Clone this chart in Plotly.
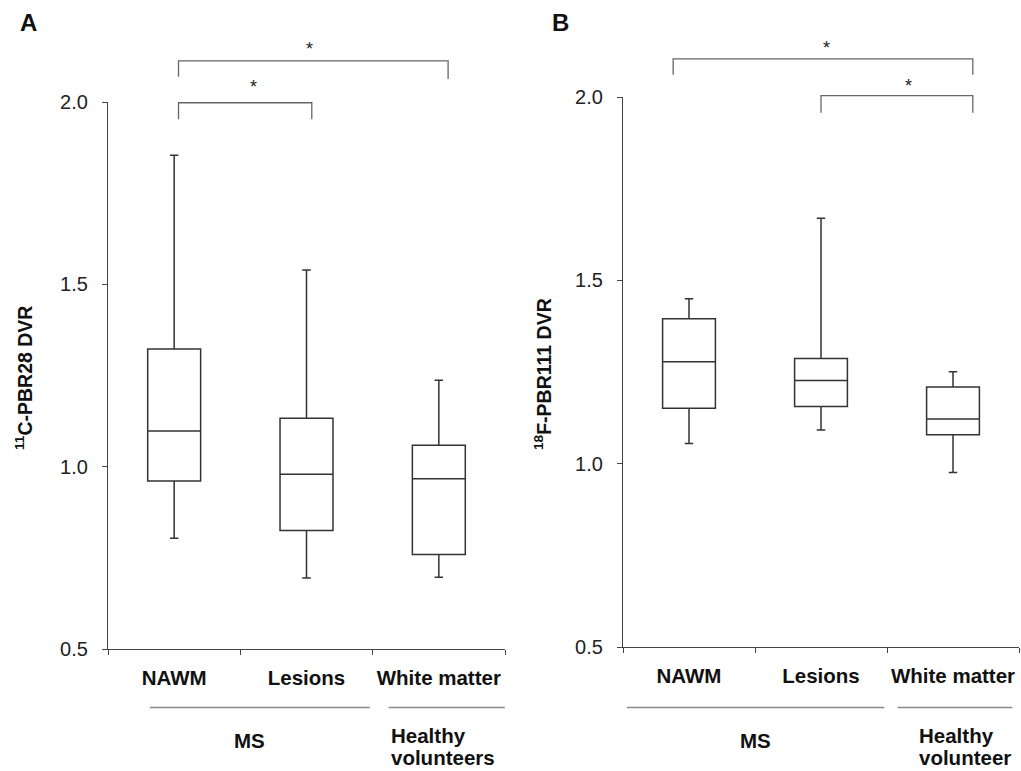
import plotly.graph_objects as go

# ---------------- data ----------------
categories = ["NAWM", "Lesions", "White matter"]

a_lower = [0.804, 0.695, 0.697]
a_q1 = [0.961, 0.825, 0.759]
a_median = [1.098, 0.979, 0.967]
a_q3 = [1.323, 1.133, 1.059]
a_upper = [1.854, 1.539, 1.237]

b_lower = [1.055, 1.092, 0.976]
b_q1 = [1.151, 1.156, 1.079]
b_median = [1.278, 1.227, 1.122]
b_q3 = [1.395, 1.287, 1.209]
b_upper = [1.450, 1.669, 1.251]

y_ticks = [0.5, 1.0, 1.5, 2.0]

# significance comparisons (category index pairs)
a_pairs = [(0, 2), (0, 1)]
b_pairs = [(0, 2), (1, 2)]

# ---------------- layout helpers ----------------
W, H = 1021, 771
FONT = "Liberation Sans, Arial, sans-serif"
BOX_COLOR = "#333333"
AX_COLOR = "#444444"
BR_COLOR = "#666666"
GRP_COLOR = "#8a8a8a"
YMIN, YMAX = 0.5, 2.0
LBL = 20.5


def px(x):
    return x / W


def py(y):
    return 1 - y / H


dom_a_x = [px(108), px(505)]
dom_a_y = [py(649), py(102)]
dom_b_x = [px(623), px(1019)]
dom_b_y = [py(647), py(97)]


def ypaper(v, dom):
    return dom[0] + (v - YMIN) / (YMAX - YMIN) * (dom[1] - dom[0])


fig = go.Figure()


def add_box(lower, q1, med, q3, upper, xa, ya):
    fig.add_trace(go.Box(
        x=categories,
        lowerfence=lower, q1=q1, median=med, q3=q3, upperfence=upper,
        xaxis=xa, yaxis=ya,
        width=0.40, whiskerwidth=0.16,
        fillcolor="white",
        line=dict(color=BOX_COLOR, width=1.5),
        boxpoints=False, hoverinfo="skip", showlegend=False,
    ))


add_box(a_lower, a_q1, a_median, a_q3, a_upper, "x", "y")
add_box(b_lower, b_q1, b_median, b_q3, b_upper, "x2", "y2")

xaxis_common = dict(
    type="category", range=[-0.5, 2.5], showgrid=False, zeroline=False,
    showline=True, linecolor=AX_COLOR, linewidth=1.2,
    ticks="outside", ticklen=5, tickcolor=AX_COLOR, tickwidth=1.2,
    tickson="boundaries", ticklabelstandoff=10, automargin=False, tickangle=0,
    tickfont=dict(family=FONT, size=LBL, color="#111111", weight="bold"),
    fixedrange=True,
)
yaxis_common = dict(
    range=[YMIN, YMAX], showgrid=False, zeroline=False,
    showline=True, linecolor=AX_COLOR, linewidth=1.2,
    ticks="outside", ticklen=5, tickcolor=AX_COLOR, tickwidth=1.2,
    tickvals=y_ticks, tickformat=".1f", ticklabelstandoff=10, automargin=False,
    tickfont=dict(family=FONT, size=20, color="#222222"),
    fixedrange=True,
)

fig.update_layout(
    width=W, height=H, autosize=False,
    margin=dict(l=0, r=0, t=0, b=0, pad=0, autoexpand=False),
    paper_bgcolor="white", plot_bgcolor="white",
    xaxis=dict(domain=dom_a_x, anchor="y", **xaxis_common),
    yaxis=dict(domain=dom_a_y, anchor="x", **yaxis_common),
    xaxis2=dict(domain=dom_b_x, anchor="y2", **xaxis_common),
    yaxis2=dict(domain=dom_b_y, anchor="x2", **yaxis_common),
    font=dict(family=FONT),
)

shapes = []
annots = []


def bracket(xref, dom, x0, x1, ytop, yleft, yright, star_x, star_y):
    yt = ypaper(ytop, dom)
    shapes.append(dict(type="path", xref=xref, yref="paper",
                       path=f"M {x0} {ypaper(yleft, dom)} L {x0} {yt} L {x1} {yt} L {x1} {ypaper(yright, dom)}",
                       line=dict(color=BR_COLOR, width=1.3)))
    annots.append(dict(xref=xref, yref="paper", x=star_x, y=ypaper(star_y, dom),
                       text="*", showarrow=False, xanchor="center", yanchor="middle",
                       font=dict(family=FONT, size=18, color="#222222")))


# Panel A brackets
(p0, p1), (q0, q1_) = a_pairs
bracket("x", dom_a_y, p0 + 0.033, p1 + 0.07, 2.113, 2.069, 2.063, 1.02, 2.146)
bracket("x", dom_a_y, q0 + 0.033, q1_ + 0.04, 1.998, 1.953, 1.953, 0.60, 2.040)
# Panel B brackets
(p0, p1), (q0, q1_) = b_pairs
bracket("x2", dom_b_y, p0 - 0.12, p1 + 0.15, 2.104, 2.061, 2.061, 1.04, 2.133)
bracket("x2", dom_b_y, q0 + 0.0, q1_ + 0.15, 2.004, 1.957, 1.957, 1.66, 2.030)


def label(xref, x, ypx, text, anchor="center"):
    annots.append(dict(xref=xref, yref="paper", x=x, y=py(ypx), text=f"<b>{text}</b>",
                       showarrow=False, xanchor=anchor, yanchor="middle",
                       font=dict(family=FONT, size=LBL, color="#111111")))


# Group lines and labels below the x axes
def group(xref, segs, ms_x, hv_x, hv_lines):
    for (s0, s1) in segs:
        shapes.append(dict(type="line", xref=xref, yref="paper",
                           x0=s0, x1=s1, y0=py(707.5), y1=py(707.5),
                           line=dict(color=GRP_COLOR, width=1.3)))
    label(xref, ms_x, 740, "MS")
    label(xref, hv_x, 735, hv_lines[0], "left")
    label(xref, hv_x, 757, hv_lines[1], "left")


group("x", [(-0.184, 1.479), (1.62, 2.499)], 0.57, 1.625, ["Healthy", "volunteers"])
group("x2", [(-0.47, 1.48), (1.58, 2.45)], 0.5, 1.725, ["Healthy", "volunteer"])

# Y axis titles
annots.append(dict(xref="paper", yref="paper", x=px(24), y=py(378),
                   text="<b><sup>11</sup>C-PBR28 DVR</b>", textangle=-90, showarrow=False,
                   xanchor="center", yanchor="middle",
                   font=dict(family=FONT, size=19.5, color="#111111")))
annots.append(dict(xref="paper", yref="paper", x=px(543), y=py(374),
                   text="<b><sup>18</sup>F-PBR111 DVR</b>", textangle=-90, showarrow=False,
                   xanchor="center", yanchor="middle",
                   font=dict(family=FONT, size=19.5, color="#111111")))

# Panel letters
annots.append(dict(xref="paper", yref="paper", x=px(28), y=py(22), text="<b>A</b>",
                   showarrow=False, xanchor="center", yanchor="middle",
                   font=dict(family=FONT, size=24, color="#111111")))
annots.append(dict(xref="paper", yref="paper", x=px(560), y=py(22), text="<b>B</b>",
                   showarrow=False, xanchor="center", yanchor="middle",
                   font=dict(family=FONT, size=24, color="#111111")))

fig.update_layout(shapes=shapes, annotations=annots)
fig.write_html("out.html")
